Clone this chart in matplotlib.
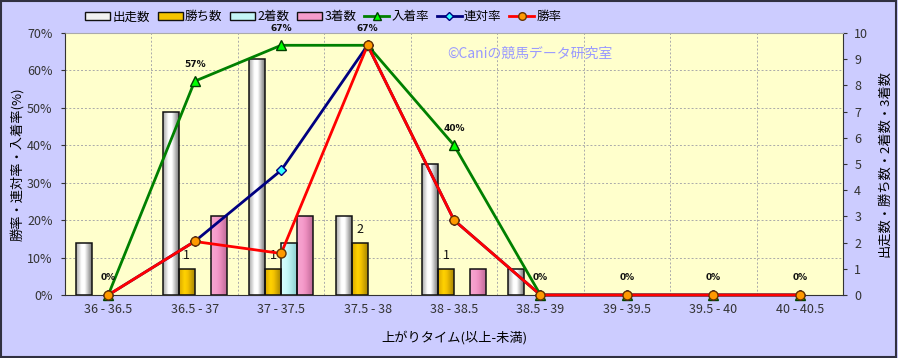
import matplotlib.pyplot as plt
import numpy as np
from matplotlib.colors import LinearSegmentedColormap
from matplotlib.lines import Line2D
from matplotlib.patches import Patch, Rectangle

plt.rcParams['font.family'] = ['Noto Sans CJK JP', 'DejaVu Sans']

# データ
categories = ['36 - 36.5', '36.5 - 37', '37 - 37.5', '37.5 - 38', '38 - 38.5',
              '38.5 - 39', '39 - 39.5', '39.5 - 40', '40 - 40.5']
starts = [2, 7, 9, 3, 5, 1, 0, 0, 0]
wins = [0, 1, 1, 2, 1, 0, 0, 0, 0]
seconds = [0, 0, 2, 0, 0, 0, 0, 0, 0]
thirds = [0, 3, 3, 0, 1, 0, 0, 0, 0]
place_rate = [0, 57.1, 66.7, 66.7, 40.0, 0, 0, 0, 0]
top2_rate = [0, 14.3, 33.3, 66.7, 20.0, 0, 0, 0, 0]
win_rate = [0, 14.3, 11.1, 66.7, 20.0, 0, 0, 0, 0]
place_labels = ['0%', '57%', '67%', '67%', '40%', '0%', '0%', '0%', '0%']

x = np.arange(len(categories))
w = 0.185

fig = plt.figure(figsize=(8.98, 3.58), dpi=100)
fig.patch.set_facecolor('#CCCCFF')
fig.patches.append(Rectangle((0.001, 0.002), 0.997, 0.995, transform=fig.transFigure,
                             fill=False, edgecolor='#303040', linewidth=1.5))

ax = fig.add_axes([0.0724, 0.176, 0.8664, 0.732])
ax.set_facecolor('#FFFFCC')
ax2 = ax.twinx()

# 棒グラフ（右軸：頭数）、横方向のグラデーション付き
bar_specs = [
    (starts, '#F2F2F2', ['#A8A8A8', '#FFFFFF', '#FFFFFF', '#7A7A7A'], '出走数'),
    (wins, '#F5C400', ['#D9A800', '#FFD200', '#F5C400', '#A88600'], '勝ち数'),
    (seconds, '#C4F6F6', ['#D8FFFF', '#C8FAFA', '#B8F0F0', '#8CCFCF'], '2着数'),
    (thirds, '#F59CCB', ['#F7A6D0', '#F59CCB', '#EE8FC0', '#C06A98'], '3着数'),
]
grad = np.linspace(0, 1, 64).reshape(1, -1)
for i, (vals, color, stops, label) in enumerate(bar_specs):
    cmap = LinearSegmentedColormap.from_list(label, list(zip([0, 0.35, 0.55, 1], stops)))
    bars = ax.bar(x + (i - 1.5) * w, vals, w, facecolor='none', edgecolor='#111111',
                  linewidth=1.1, zorder=3.1)
    for b in bars:
        if b.get_height() == 0:
            b.set_visible(False)
            continue
        x0, y0 = b.get_xy()
        im = ax.imshow(grad, cmap=cmap, aspect='auto', interpolation='bilinear', zorder=3,
                       extent=[x0, x0 + b.get_width(), y0, y0 + b.get_height()])
        im.set_clip_path(b)

for xi, v in zip(x, wins):
    if v > 0:
        ax.annotate(str(v), (xi - 0.5 * w, v), xytext=(0, 5), textcoords='offset points',
                    ha='center', va='bottom', fontsize=9, color='#111111', zorder=5)

ax.set_xlim(-0.5, len(categories) - 0.5)
ax.set_ylim(0, 10)
ax.set_yticks(range(0, 11))
ax.yaxis.tick_right()
ax.yaxis.set_label_position('right')
ax.set_ylabel('出走数・勝ち数・2着数・3着数', fontsize=9.5, labelpad=7)
ax.set_xticks(x)
ax.set_xticklabels(categories)
ax.tick_params(axis='x', length=0, labelsize=9, colors='#333333', pad=6)
ax.tick_params(axis='y', length=3, labelsize=9, colors='#333333', pad=5)
ax.set_xlabel('上がりタイム(以上-未満)', fontsize=9.5, labelpad=10)

# グリッド
for b in x[:-1] + 0.5:
    ax.axvline(b, color='#AAAAAA', linestyle=(0, (2, 2)), linewidth=0.7, zorder=1)
for v in range(10, 70, 10):
    ax.axhline(v / 70 * 10, color='#AAAAAA', linestyle=(0, (2, 2)), linewidth=0.7, zorder=1)

for sp in ['left', 'bottom', 'right']:
    ax.spines[sp].set_color('#333333')
ax.spines['top'].set_color('#AAAAAA')

# 折れ線グラフ（左軸：％）
ax2.set_ylim(0, 70)
ax2.set_yticks(range(0, 71, 10))
ax2.set_yticklabels([f'{v}%' for v in range(0, 71, 10)])
ax2.yaxis.tick_left()
ax2.yaxis.set_label_position('left')
ax2.tick_params(axis='y', length=3, labelsize=9, colors='#333333', pad=6)
ax2.set_ylabel('勝率・連対率・入着率(%)', fontsize=9.5, labelpad=2)

ax2.plot(x, place_rate, color='#008000', linewidth=2, marker='^', markersize=7,
         markerfacecolor='#00FF00', markeredgecolor='#004000', zorder=3, clip_on=False)
ax2.plot(x, top2_rate, color='#000080', linewidth=2, marker='D', markersize=5,
         markerfacecolor='#33FFFF', markeredgecolor='#000080', zorder=4, clip_on=False)
ax2.plot(x, win_rate, color='#FF0000', linewidth=2, marker='o', markersize=6.5,
         markerfacecolor='#FF9900', markeredgecolor='#663300', zorder=5, clip_on=False)

for xi, v, lab in zip(x, place_rate, place_labels):
    ax2.annotate(lab, (xi, v), xytext=(0, 9), textcoords='offset points', ha='center',
                 va='bottom', fontsize=6.5, fontweight='bold', color='#111111',
                 family='DejaVu Sans', annotation_clip=False)

for sp in ax2.spines.values():
    sp.set_visible(False)

ax2.text(0.491, 0.92, '©Caniの競馬データ研究室', transform=ax2.transAxes, fontsize=10,
         color='#9999FF', ha='left', va='center')

# 凡例
handles = [Patch(facecolor=c, edgecolor='#111111', label=l) for _, c, _, l in bar_specs]
handles += [
    Line2D([], [], color='#008000', linewidth=2, marker='^', markersize=6,
           markerfacecolor='#00FF00', markeredgecolor='#004000', label='入着率'),
    Line2D([], [], color='#000080', linewidth=2, marker='D', markersize=4,
           markerfacecolor='#33FFFF', markeredgecolor='#000080', label='連対率'),
    Line2D([], [], color='#FF0000', linewidth=2, marker='o', markersize=5.5,
           markerfacecolor='#FF9900', markeredgecolor='#663300', label='勝率'),
]
fig.legend(handles=handles, loc='center', bbox_to_anchor=(0.36, 0.953), ncol=7,
           frameon=False, fontsize=9, handlelength=2.0, handleheight=0.55,
           handletextpad=0.2, columnspacing=0.6)

fig.savefig('out.png', dpi=100, facecolor=fig.get_facecolor())
